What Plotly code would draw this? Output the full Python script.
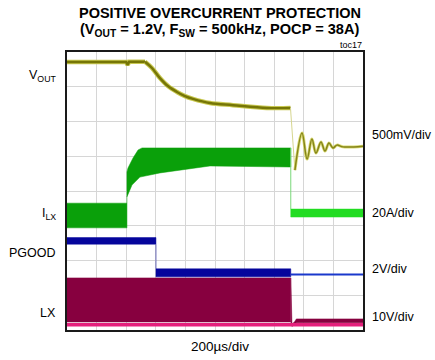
import plotly.graph_objects as go

# ---- data (time in µs, 200 µs/div; amplitude in screen divisions, 8 div tall) ----
vout_t = [0, 400, 410, 420, 527, 574, 628, 682, 743, 797, 851, 966, 1122, 1351, 1510,
          1540, 1588, 1622, 1655, 1682, 1716, 1743, 1770, 1797, 1824, 1865, 2000]
vout_v = [7.71, 7.71, 7.63, 7.72, 7.72, 7.54, 7.25, 7.02, 6.85, 6.73, 6.65, 6.53, 6.47, 6.39, 6.39,
          4.60, 5.67, 4.92, 5.50, 5.09, 5.41, 5.15, 5.38, 5.24, 5.32, 5.27, 5.29]
vout_decay_index = 4   # start of the discharge curve
vout_ring_index = 15   # first point of the ringing (minimum after the drop)

ilx_pre_t = [0, 405]
ilx_pre_lo, ilx_pre_hi = 2.94, 3.65
ilx_up_t = [405, 405, 412, 446, 480, 507, 1512]
ilx_up_v = [3.65, 4.55, 4.66, 4.95, 5.18, 5.24, 5.24]
ilx_lo_t = [1512, 966, 628, 493, 439, 405]
ilx_lo_v = [4.69, 4.72, 4.52, 4.40, 4.17, 3.83]
ilx_post_t = [1512, 2000]
ilx_post_lo, ilx_post_hi = 3.25, 3.48

pg_high_t = [0, 601]
pg_high_lo, pg_high_hi = 2.47, 2.66
pg_low_t = [601, 1512]
pg_low_lo, pg_low_hi = 1.53, 1.76
pg_post_t = [1512, 2000]
pg_post_v = 1.60

lx_t = [0, 1512]
lx_lo, lx_hi = 0.23, 1.50
lx_post_t = [1512, 1520, 1535, 1550, 2000]
lx_post_hi = [1.50, 0.18, 0.22, 0.32, 0.32]
lx_post_lo = [0.21, 0.10, 0.14, 0.21, 0.21]
lx_base_t = [0, 2000]
lx_base_v = 0.15

left_labels = ["V<sub>OUT</sub>", "I<sub>LX</sub>", "PGOOD", "LX"]
right_labels = ["500mV/div", "20A/div", "2V/div", "10V/div"]

# ---- helpers ----
def rect(t, lo, hi):
    return [t[0], t[1], t[1], t[0], t[0]], [lo, lo, hi, hi, lo]

fig = go.Figure()

def band(xs, ys, color):
    fig.add_trace(go.Scatter(x=xs, y=ys, mode="lines", fill="toself", fillcolor=color,
                             line=dict(color=color, width=0.5), hoverinfo="skip", showlegend=False))

def line(xs, ys, color, width, shape="linear"):
    fig.add_trace(go.Scatter(x=xs, y=ys, mode="lines", line=dict(color=color, width=width, shape=shape),
                             hoverinfo="skip", showlegend=False))

# LX
x, y = rect(lx_t, lx_lo, lx_hi)
band(x, y, "#87003f")
band(lx_post_t + lx_post_t[::-1], lx_post_hi + lx_post_lo[::-1], "#87003f")
line(lx_base_t, [lx_base_v] * 2, "#e5207c", 3.5)

# PGOOD
x, y = rect(pg_high_t, pg_high_lo, pg_high_hi)
band(x, y, "#05059c")
line([pg_high_t[1], pg_high_t[1]], [pg_high_lo, pg_low_hi], "#6a6ab8", 1)
x, y = rect(pg_low_t, pg_low_lo, pg_low_hi)
band(x, y, "#05059c")
line(pg_post_t, [pg_post_v] * 2, "#1a38cc", 2)

# I_LX
x, y = rect(ilx_pre_t, ilx_pre_lo, ilx_pre_hi)
band(x, y, "#0aa00a")
band(ilx_up_t + ilx_lo_t, ilx_up_v + ilx_lo_v, "#0aa00a")
line([ilx_post_t[0], ilx_post_t[0]], [ilx_up_v[-1], ilx_post_hi], "#7ad87a", 1)
x, y = rect(ilx_post_t, ilx_post_lo, ilx_post_hi)
band(x, y, "#22dc22")

# V_OUT
d, k = vout_decay_index, vout_ring_index
flat_t, flat_v = vout_t[:d + 1], vout_v[:d + 1]
dec_t, dec_v = vout_t[d:k], vout_v[d:k]
drop_t, drop_v = vout_t[k - 1:k + 1], vout_v[k - 1:k + 1]
ring_t, ring_v = vout_t[k:], vout_v[k:]
for xs, ys, shp in [(flat_t, flat_v, "linear"), (dec_t, dec_v, "spline")]:
    line(xs, ys, "#c8c850", 4.5, shp)
    line(xs, ys, "#767606", 2.5, shp)
line(drop_t, drop_v, "#d6d690", 1)
line(ring_t, ring_v, "#d8d870", 3, "spline")
line(ring_t, ring_v, "#85851a", 1.5, "spline")

# ---- layout ----
L, R, T, B = 67, 72, 52, 30
W, H = 435, 360
PH = H - T - B

def py(p):
    return (H - B - p) / PH

def px(p):
    return (p - L) / (W - L - R)

anns = []
def ann(text, x, y, size, anchor="center", family="Liberation Sans, Arial, sans-serif"):
    anns.append(dict(text=text, x=px(x), y=py(y), xref="paper", yref="paper", showarrow=False,
                     xanchor=anchor, yanchor="middle", font=dict(size=size, color="black", family=family)))

ann("<b>POSITIVE OVERCURRENT PROTECTION</b>", 220, 13, 14.5)
ann("<b>(V<sub>OUT</sub> = 1.2V, F<sub>SW</sub> = 500kHz, POCP = 38A)</b>", 220.5, 30, 14.6)
ann("toc17", 364, 45.5, 9, anchor="right")
for txt, yy in zip(left_labels, [76, 214, 253, 313]):
    ann(txt, 58, yy, 12.5, anchor="right")
for txt, yy in zip(right_labels, [134.5, 213, 268.5, 317]):
    ann(txt, 370, yy, 12.5, anchor="left")
ann("200µs/div", 220, 346, 13.5)

axis_common = dict(showgrid=True, gridcolor="#d6d6d6", gridwidth=1, zeroline=False,
                   showticklabels=False, ticks="", showline=True, mirror=True,
                   linecolor="#1a1a1a", linewidth=2, fixedrange=True)
fig.update_layout(
    width=W, height=H, autosize=False,
    margin=dict(l=L, r=R, t=T, b=B, pad=0),
    paper_bgcolor="white", plot_bgcolor="white",
    xaxis=dict(range=[0, 2000], dtick=200, tick0=0, **axis_common),
    yaxis=dict(range=[0, 8], dtick=1, tick0=0, **axis_common),
    annotations=anns, showlegend=False,
)
fig.write_html("out.html", config={"displayModeBar": False})
